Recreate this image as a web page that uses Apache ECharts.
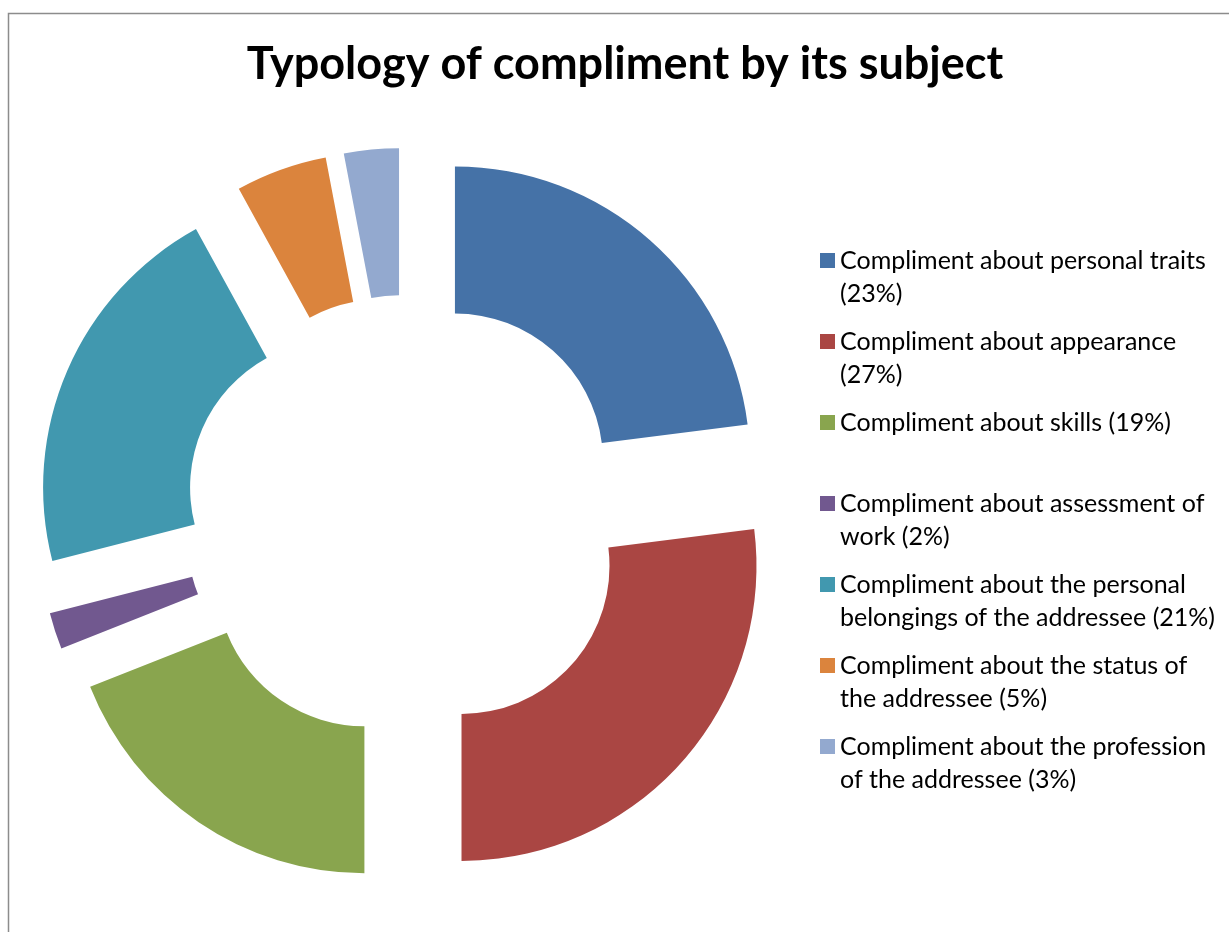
<!DOCTYPE html>
<html>
<head>
<meta charset="utf-8">
<script src="https://cdn.jsdelivr.net/npm/echarts@6/dist/echarts.min.js"></script>
<style>
html,body{margin:0;padding:0;background:#fff;}
#chart{width:1229px;height:932px;}
</style>
</head>
<body>
<div id="chart"></div>
<script>
// ---- data ----
const categories = [
  'Compliment about personal traits (23%)',
  'Compliment about appearance (27%)',
  'Compliment about skills (19%)',
  'Compliment about assessment of work (2%)',
  'Compliment about the personal belongings of the addressee (21%)',
  'Compliment about the status of the addressee (5%)',
  'Compliment about the profession of the addressee (3%)'
];
const legendLines = [
  'Compliment about personal traits\n(23%)',
  'Compliment about appearance\n(27%)',
  'Compliment about skills (19%)\n',
  'Compliment about assessment of\nwork (2%)',
  'Compliment about the personal\nbelongings of the addressee (21%)',
  'Compliment about the status of\nthe addressee (5%)',
  'Compliment about the profession\nof the addressee (3%)'
];
const values = [23, 27, 19, 2, 21, 5, 3];
const colors = ['#4572A7', '#AA4643', '#89A54E', '#71588F', '#4198AF', '#DB843D', '#93A9CF'];

const FONT = 'Lato, "Open Sans", sans-serif';
const LINE_H = 33;
const chart = echarts.init(document.getElementById('chart'), null, {renderer: 'canvas'});

// square icon sitting at the top of a tall item box so it lines up with the first text line
const ICON_H = LINE_H + 15;
const iconPath = 'path://M0,0H15V15H0Z M0,' + ICON_H + 'L0.01,' + ICON_H + 'L0,' + ICON_H + 'Z';

const legends = categories.map((name, i) => ({
  orient: 'vertical',
  left: 820,
  top: 244 + i * 81,
  padding: 0,
  itemWidth: 15,
  itemHeight: ICON_H,
  itemGap: 0,
  icon: iconPath,
  symbolKeepAspect: false,
  selectedMode: false,
  data: [name],
  formatter: (n) => legendLines[categories.indexOf(n)],
  textStyle: {
    fontFamily: FONT,
    fontSize: 25,
    lineHeight: LINE_H,
    color: '#000'
  }
}));

chart.setOption({
  animation: false,
  color: colors,
  title: {
    text: 'Typology of compliment by its subject',
    left: 620,
    textAlign: 'center',
    top: 37,
    textStyle: {fontFamily: FONT, fontSize: 45, fontWeight: 'bold', color: '#000'}
  },
  legend: legends,
  graphic: [{
    type: 'rect',
    shape: {x: 8.5, y: 13.5, width: 1400, height: 1000},
    style: {fill: 'none', stroke: '#8c8c8c', lineWidth: 1.5},
    silent: true,
    z: -10
  }],
  series: [{
    type: 'pie',
    center: [406, 517],
    radius: [148, 295],
    startAngle: 90,
    clockwise: true,
    selectedMode: 'multiple',
    selectedOffset: 74,
    label: {show: false},
    labelLine: {show: false},
    emphasis: {disabled: true},
    itemStyle: {borderWidth: 0},
    data: categories.map((name, i) => ({name: name, value: values[i], selected: true}))
  }]
});
</script>
</body>
</html>
